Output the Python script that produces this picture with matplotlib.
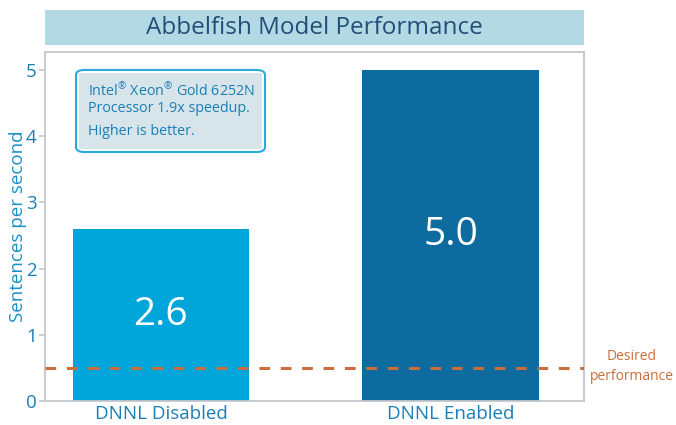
import matplotlib
matplotlib.use("Agg")
import matplotlib.pyplot as plt
from matplotlib.patches import FancyBboxPatch, Rectangle

categories = ["DNNL Disabled", "DNNL Enabled"]
values = [2.6, 5.0]
bar_labels = ["2.6", "5.0"]
desired = 0.5
yticks = [0, 1, 2, 3, 4, 5]

plt.rcParams['font.family'] = ['Open Sans', 'DejaVu Sans']
plt.rcParams['mathtext.fontset'] = 'custom'
plt.rcParams['mathtext.rm'] = 'Open Sans'
plt.rcParams['mathtext.it'] = 'Open Sans:italic'
plt.rcParams['mathtext.bf'] = 'Open Sans:bold'

W, H = 676, 425
fig = plt.figure(figsize=(W/100, H/100), dpi=100)
ax = fig.add_axes([45/W, 1-401/H, (584-45)/W, (401-52)/H])

bar_colors = ["#00a5d9", "#0e6ba0"]
x = list(range(len(categories)))
ax.bar(x, values, width=0.61, color=bar_colors, zorder=2)
for xi, v, lab in zip(x, values, bar_labels):
    ax.text(xi, v/2, lab, ha='center', va='center', color='white', fontsize=28, zorder=3)

ax.axhline(desired, color="#c96f3b", linestyle=(0, (3.5, 3.5)), linewidth=2.2, zorder=4)
ax.set_xlim(-0.40, 1.46)
ax.set_ylim(0, 5.27)
ax.set_xticks(x)
ax.set_xticklabels(categories, fontsize=13.5, color="#1a7fb5")
ax.set_yticks(yticks)
ax.set_yticklabels([str(t) for t in yticks], fontsize=13.5, color="#1a7fb5")
ax.tick_params(axis='x', length=0, pad=3)
ax.tick_params(axis='y', length=4, width=1.2, color="#c3c6ca", pad=2)
for s in ax.spines.values():
    s.set_color("#c3c6ca")
    s.set_linewidth(1.3)
ax.set_ylabel("Sentences per second", fontsize=13.5, color="#1a8fc8", labelpad=-1)

# Title bar
fig.patches.append(Rectangle((45/W, 1-45/H), (584-45)/W, 35/H, transform=fig.transFigure,
                             facecolor="#b3d9e4", edgecolor='none'))
fig.text((45+584)/2/W, 1-27.5/H, "Abbelfish Model Performance", ha='center', va='center',
         fontsize=17.5, color="#234e78")

# Annotation box
bx0, by0, bx1, by1 = 76, 70, 265, 152
fig.patches.append(FancyBboxPatch((bx0/W, 1-by1/H), (bx1-bx0)/W, (by1-by0)/H,
                                  boxstyle="round,pad=0,rounding_size=0.012",
                                  transform=fig.transFigure, facecolor="white",
                                  edgecolor="#2aa9dd", linewidth=1.5, zorder=5))
fig.patches.append(Rectangle(((bx0+3)/W, 1-(by1-3)/H), (bx1-bx0-6)/W, (by1-by0-6)/H,
                             transform=fig.transFigure, facecolor="#d7e5eb",
                             edgecolor='none', zorder=5.5))
fig.text(88/W, 1-96/H, r"Intel$^{\mathrm{®}}$ Xeon$^{\mathrm{®}}$ Gold 6252N", ha='left',
         va='baseline', fontsize=10.3, color="#1a7fb5", zorder=6)
fig.text(88/W, 1-112/H, "Processor 1.9x speedup.", ha='left', va='baseline',
         fontsize=10.3, color="#1a7fb5", zorder=6)
fig.text(88/W, 1-135/H, "Higher is better.", ha='left', va='baseline',
         fontsize=10.3, color="#1a7fb5", zorder=6)

fig.text(632/W, 1-357/H, "Desired", ha='center', va='center', fontsize=10,
         color="#c96f3b")
fig.text(632/W, 1-376/H, "performance", ha='center', va='center', fontsize=10,
         color="#c96f3b")

fig.savefig("out.png", dpi=100)
